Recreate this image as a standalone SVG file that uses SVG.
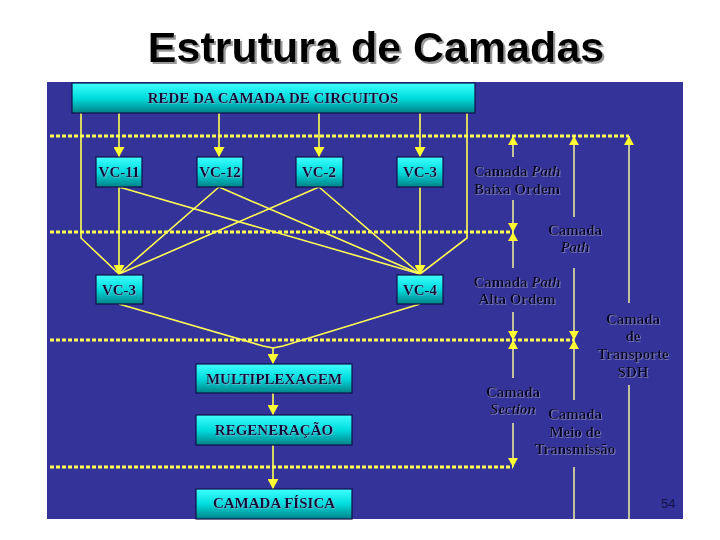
<svg xmlns="http://www.w3.org/2000/svg" width="720" height="540" viewBox="0 0 720 540">
<defs>
<linearGradient id="cyan" x1="0" y1="0" x2="0" y2="1">
<stop offset="0" stop-color="#40ffff"/>
<stop offset="0.5" stop-color="#00dcdc"/>
<stop offset="1" stop-color="#008288"/>
</linearGradient>
<filter id="halo" x="-10%" y="-30%" width="120%" height="160%">
<feDropShadow dx="0.8" dy="0.8" stdDeviation="0" flood-color="#b0b0e0" flood-opacity="0.6"/>
</filter>
<filter id="tshadow" x="-5%" y="-20%" width="110%" height="140%">
<feDropShadow dx="2" dy="2" stdDeviation="0.6" flood-color="#999999"/>
</filter>
<marker id="ah" markerUnits="userSpaceOnUse" markerWidth="11" markerHeight="11" refX="10" refY="5.5" orient="auto">
<path d="M0,0 L10,5.5 L0,11 z" fill="#ffff33"/>
</marker>
<marker id="ahs" markerUnits="userSpaceOnUse" markerWidth="9" markerHeight="10" refX="9" refY="5" orient="auto">
<path d="M0,0 L9,5 L0,10 z" fill="#ffff33"/>
</marker>
</defs>
<style>
.box{fill:url(#cyan);stroke:#10104a;stroke-width:1.2}
.bt{font-family:"Liberation Serif",serif;font-weight:bold;font-size:15px;fill:#0a0a35;text-anchor:middle;filter:url(#halo)}
.lb{font-family:"Liberation Serif",serif;font-weight:bold;font-size:15px;fill:#06062a;text-anchor:middle;filter:url(#halo)}
.it{font-style:italic}
.dot{stroke:#ffff55;stroke-width:3;stroke-dasharray:4 2;fill:none}
.cn{stroke:#ffff55;stroke-width:1.6;fill:none}
.rl{stroke:#ffffa0;stroke-width:1.4;fill:none}
</style>
<rect x="0" y="0" width="720" height="540" fill="#ffffff"/>
<text x="376" y="62" font-family="Liberation Sans, Arial, sans-serif" font-weight="bold" font-size="43" text-anchor="middle" fill="#000000" filter="url(#tshadow)">Estrutura de Camadas</text>
<rect x="47" y="82" width="636" height="437" fill="#333399"/>

<g id="dotted-lines">
<line class="dot" x1="50" y1="136" x2="629" y2="136"/>
<line class="dot" x1="50" y1="232" x2="513" y2="232"/>
<line class="dot" x1="50" y1="340" x2="574" y2="340"/>
<line class="dot" x1="50" y1="467" x2="513" y2="467"/>
</g>

<g id="connectors">
<line class="cn" x1="119" y1="113" x2="119" y2="157" marker-end="url(#ah)"/>
<line class="cn" x1="219" y1="113" x2="219" y2="157" marker-end="url(#ah)"/>
<line class="cn" x1="319" y1="113" x2="319" y2="157" marker-end="url(#ah)"/>
<line class="cn" x1="420" y1="113" x2="420" y2="157" marker-end="url(#ah)"/>
<polyline class="cn" points="81,113 81,238 119,274"/>
<polyline class="cn" points="467,113 467,238 420,274"/>
<line class="cn" x1="219" y1="187" x2="119" y2="274"/>
<line class="cn" x1="319" y1="187" x2="119" y2="274"/>
<line class="cn" x1="119" y1="187" x2="420" y2="274"/>
<line class="cn" x1="219" y1="187" x2="420" y2="274"/>
<line class="cn" x1="319" y1="187" x2="420" y2="274"/>
<line class="cn" x1="119" y1="187" x2="119" y2="275" marker-end="url(#ah)"/>
<line class="cn" x1="420" y1="187" x2="420" y2="275" marker-end="url(#ah)"/>
<polyline class="cn" points="119,304 263,346 273,348"/>
<polyline class="cn" points="420,304 283,346 273,348"/>
<line class="cn" x1="273" y1="348" x2="273" y2="364" marker-end="url(#ah)"/>
<line class="cn" x1="273" y1="393" x2="273" y2="415" marker-end="url(#ah)"/>
<line class="cn" x1="273" y1="445" x2="273" y2="489" marker-end="url(#ah)"/>
</g>

<g id="layer-markers">
<line class="rl" x1="513" y1="157" x2="513" y2="136" marker-end="url(#ahs)"/>
<line class="rl" x1="513" y1="200" x2="513" y2="232" marker-end="url(#ahs)"/>
<line class="rl" x1="513" y1="268" x2="513" y2="232" marker-end="url(#ahs)"/>
<line class="rl" x1="513" y1="312" x2="513" y2="340" marker-end="url(#ahs)"/>
<line class="rl" x1="513" y1="378" x2="513" y2="340" marker-end="url(#ahs)"/>
<line class="rl" x1="513" y1="423" x2="513" y2="467" marker-end="url(#ahs)"/>
<line class="rl" x1="574" y1="217" x2="574" y2="136" marker-end="url(#ahs)"/>
<line class="rl" x1="574" y1="268" x2="574" y2="340" marker-end="url(#ahs)"/>
<line class="rl" x1="574" y1="400" x2="574" y2="340" marker-end="url(#ahs)"/>
<line class="rl" x1="574" y1="467" x2="574" y2="519"/>
<line class="rl" x1="629" y1="303" x2="629" y2="136" marker-end="url(#ahs)"/>
<line class="rl" x1="629" y1="385" x2="629" y2="519"/>
</g>

<g id="rede">
<rect class="box" x="72" y="83" width="403" height="30"/>
<text class="bt" x="273" y="103">REDE DA CAMADA DE CIRCUITOS</text>
</g>
<g id="vc11"><rect class="box" x="96" y="157" width="46" height="30"/><text class="bt" x="119" y="177">VC-11</text></g>
<g id="vc12"><rect class="box" x="197" y="157" width="46" height="30"/><text class="bt" x="220" y="177">VC-12</text></g>
<g id="vc2"><rect class="box" x="296" y="157" width="47" height="30"/><text class="bt" x="319" y="177">VC-2</text></g>
<g id="vc3a"><rect class="box" x="397" y="157" width="46" height="30"/><text class="bt" x="420" y="177">VC-3</text></g>
<g id="vc3b"><rect class="box" x="96" y="275" width="47" height="29"/><text class="bt" x="119" y="295">VC-3</text></g>
<g id="vc4"><rect class="box" x="397" y="275" width="46" height="29"/><text class="bt" x="420" y="295">VC-4</text></g>
<g id="mux"><rect class="box" x="196" y="364" width="156" height="29"/><text class="bt" x="274" y="384">MULTIPLEXAGEM</text></g>
<g id="regen"><rect class="box" x="196" y="415" width="156" height="30"/><text class="bt" x="274" y="435">REGENERAÇÃO</text></g>
<g id="fisica"><rect class="box" x="196" y="489" width="156" height="30"/><text class="bt" x="274" y="508">CAMADA FÍSICA</text></g>

<g id="labels">
<text class="lb" x="517" y="176">Camada <tspan class="it">Path</tspan></text>
<text class="lb" x="517" y="194">Baixa Ordem</text>
<text class="lb" x="575" y="235">Camada</text>
<text class="lb it" x="575" y="252">Path</text>
<text class="lb" x="517" y="287">Camada <tspan class="it">Path</tspan></text>
<text class="lb" x="517" y="304">Alta Ordem</text>
<text class="lb" x="633" y="324">Camada</text>
<text class="lb" x="633" y="341">de</text>
<text class="lb" x="633" y="359">Transporte</text>
<text class="lb" x="633" y="377">SDH</text>
<text class="lb" x="513" y="397">Camada</text>
<text class="lb it" x="513" y="414">Section</text>
<text class="lb" x="575" y="419">Camada</text>
<text class="lb" x="575" y="437">Meio de</text>
<text class="lb" x="575" y="454">Transmissão</text>
</g>
<text x="661" y="508" font-family="Liberation Sans, Arial, sans-serif" font-size="13" fill="#14144a">54</text>
</svg>
